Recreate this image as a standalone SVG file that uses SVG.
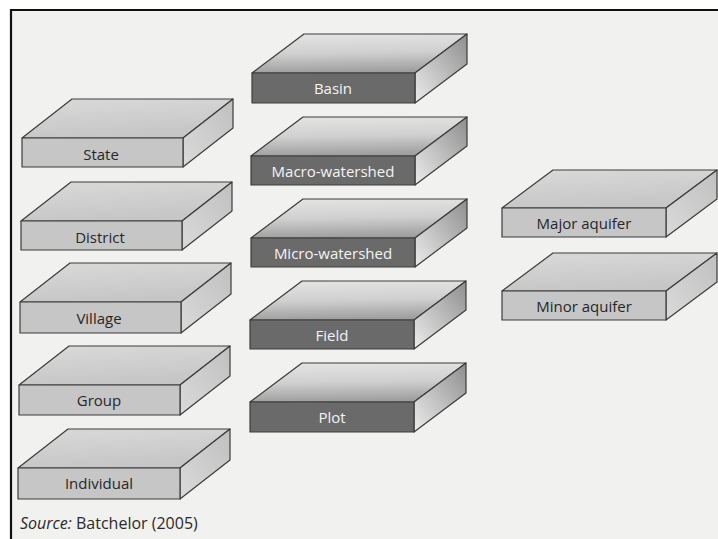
<svg xmlns="http://www.w3.org/2000/svg" width="718" height="539" viewBox="0 0 718 539">
<defs>
<linearGradient id="topL" x1="0" y1="0" x2="0.3" y2="1">
<stop offset="0" stop-color="#dadada"/><stop offset="1" stop-color="#c6c6c6"/>
</linearGradient>
<linearGradient id="sideL" x1="0" y1="1" x2="1" y2="0">
<stop offset="0" stop-color="#dadada"/><stop offset="1" stop-color="#c0c0c0"/>
</linearGradient>
<linearGradient id="topD" x1="0.2" y1="0" x2="0.3" y2="1">
<stop offset="0" stop-color="#e4e4e4"/><stop offset="0.5" stop-color="#d0d0d0"/><stop offset="1" stop-color="#9e9e9e"/>
</linearGradient>
<linearGradient id="sideD" x1="0" y1="1" x2="1" y2="0">
<stop offset="0" stop-color="#ececec"/><stop offset="1" stop-color="#8e8e8e"/>
</linearGradient>
</defs>
<style>
.e{stroke:#3c3c3c;stroke-width:1.2;stroke-linejoin:round}
.fl{fill:#c6c6c6}.tl{fill:url(#topL)}.sl{fill:url(#sideL)}
.fd{fill:#6a6a6a}.td{fill:url(#topD)}.sd{fill:url(#sideD)}
.t{font-family:"Open Sans","Liberation Sans",sans-serif;font-size:15px;text-anchor:middle}
.tk{fill:#262626}.tw{fill:#f4f4f4}
.src{font-family:"Open Sans","Liberation Sans",sans-serif;font-size:16px;fill:#2a2a2a}
</style>
<rect x="0" y="0" width="718" height="539" fill="#ffffff"/>
<rect x="11" y="10" width="707" height="529" fill="#f1f1ef"/>
<path d="M11 539 V10 H718" fill="none" stroke="#111" stroke-width="2.2"/>
<g id="connectors"/>

<g id="state">
<path class="e tl" d="M22 138 L72 99 L233 99 L183 138 Z"/>
<path class="e sl" d="M183 138 L233 99 L233 128 L183 167 Z"/>
<rect class="e fl" x="22" y="138" width="161" height="29"/>
<text class="t tk" x="101" y="160">State</text>
</g>
<g id="district">
<path class="e tl" d="M21 221 L71 182 L232 182 L182 221 Z"/>
<path class="e sl" d="M182 221 L232 182 L232 211 L182 250 Z"/>
<rect class="e fl" x="21" y="221" width="161" height="29"/>
<text class="t tk" x="100" y="243">District</text>
</g>
<g id="village">
<path class="e tl" d="M20 302 L70 263 L231 263 L181 302 Z"/>
<path class="e sl" d="M181 302 L231 263 L231 294 L181 333 Z"/>
<rect class="e fl" x="20" y="302" width="161" height="31"/>
<text class="t tk" x="99" y="324">Village</text>
</g>
<g id="group">
<path class="e tl" d="M19 385 L69 346 L230 346 L180 385 Z"/>
<path class="e sl" d="M180 385 L230 346 L230 376 L180 415 Z"/>
<rect class="e fl" x="19" y="385" width="161" height="30"/>
<text class="t tk" x="99" y="406">Group</text>
</g>
<g id="individual">
<path class="e tl" d="M18 468 L68 429 L230 429 L180 468 Z"/>
<path class="e sl" d="M180 468 L230 429 L230 460 L180 499 Z"/>
<rect class="e fl" x="18" y="468" width="162" height="31"/>
<text class="t tk" x="99" y="489">Individual</text>
</g>

<g id="basin">
<path class="e td" d="M252 73 L304 34 L467 34 L415 73 Z"/>
<path class="e sd" d="M415 73 L467 34 L467 64 L415 103 Z"/>
<rect class="e fd" x="252" y="73" width="163" height="30"/>
<text class="t tw" x="333" y="94">Basin</text>
</g>
<g id="macro-watershed">
<path class="e td" d="M251 156 L303 117 L467 117 L415 156 Z"/>
<path class="e sd" d="M415 156 L467 117 L467 146 L415 185 Z"/>
<rect class="e fd" x="251" y="156" width="164" height="29"/>
<text class="t tw" x="333" y="177">Macro-watershed</text>
</g>
<g id="micro-watershed">
<path class="e td" d="M251 238 L303 199 L467 199 L415 238 Z"/>
<path class="e sd" d="M415 238 L467 199 L467 228 L415 267 Z"/>
<rect class="e fd" x="251" y="238" width="164" height="29"/>
<text class="t tw" x="333" y="259">Micro-watershed</text>
</g>
<g id="field">
<path class="e td" d="M250 320 L302 281 L466 281 L414 320 Z"/>
<path class="e sd" d="M414 320 L466 281 L466 310 L414 349 Z"/>
<rect class="e fd" x="250" y="320" width="164" height="29"/>
<text class="t tw" x="332" y="341">Field</text>
</g>
<g id="plot">
<path class="e td" d="M250 402 L302 363 L466 363 L414 402 Z"/>
<path class="e sd" d="M414 402 L466 363 L466 393 L414 432 Z"/>
<rect class="e fd" x="250" y="402" width="164" height="30"/>
<text class="t tw" x="332" y="423">Plot</text>
</g>

<g id="major-aquifer">
<path class="e tl" d="M502 208 L553 170 L717 170 L666 208 Z"/>
<path class="e sl" d="M666 208 L717 170 L717 199 L666 237 Z"/>
<rect class="e fl" x="502" y="208" width="164" height="29"/>
<text class="t tk" x="584" y="229">Major aquifer</text>
</g>
<g id="minor-aquifer">
<path class="e tl" d="M502 291 L553 253 L717 253 L666 291 Z"/>
<path class="e sl" d="M666 291 L717 253 L717 282 L666 320 Z"/>
<rect class="e fl" x="502" y="291" width="164" height="29"/>
<text class="t tk" x="584" y="312">Minor aquifer</text>
</g>

<text class="src" x="20" y="529"><tspan font-style="italic">Source:</tspan> Batchelor (2005)</text>
</svg>
